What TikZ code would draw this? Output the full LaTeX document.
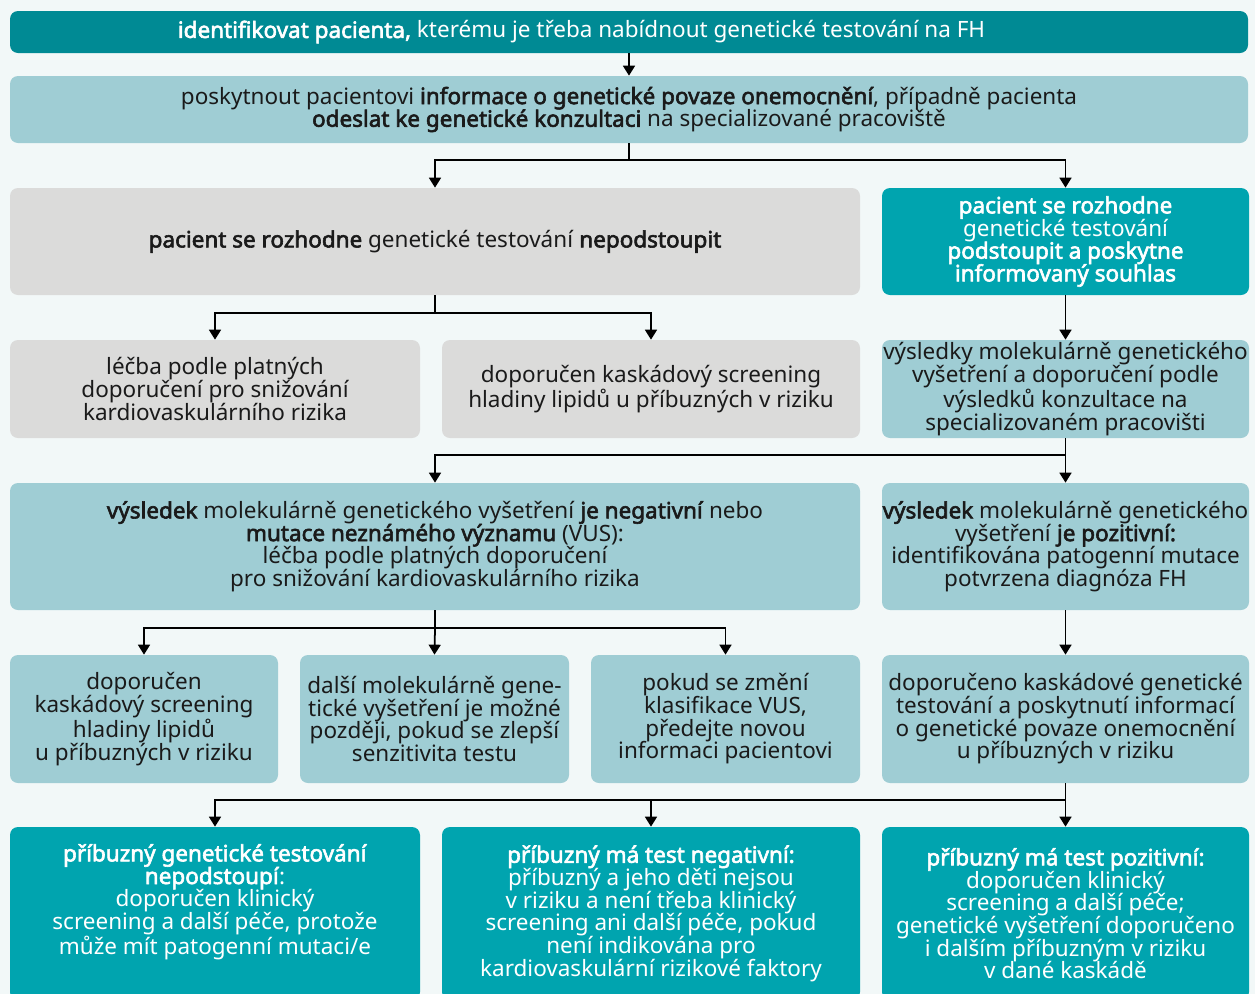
\documentclass[tikz,border=0pt]{standalone}
\usepackage{fontspec}
\setmainfont{Noto Sans}[AutoFakeBold=2.6]
\usepackage{xcolor}
\usepackage{tikz}
\usetikzlibrary{arrows.meta}
\definecolor{bg}{HTML}{F2F8F8}
\definecolor{deep}{HTML}{008A94}
\definecolor{teal}{HTML}{00A4AF}
\definecolor{pale}{HTML}{9FCDD4}
\definecolor{stone}{HTML}{DBDBDA}
\definecolor{ink}{HTML}{1A1A1A}
\tikzset{
  box/.style={rounded corners=0.16cm, inner xsep=0.01cm, inner ysep=0.04cm, align=center,
    font=\fontsize{12.8}{12.9}\selectfont},
  sz/.style 2 args={minimum width={#1*0.02cm}, minimum height={#2*0.02cm}},
  deepbox/.style={box, fill=deep, text=white},
  tealbox/.style={box, fill=teal, text=white},
  palebox/.style={box, fill=pale, text=ink},
  stonebox/.style={box, fill=stone, text=ink},
  ln/.style={draw=black, line width=1pt},
  arr/.style={ln, -{Triangle[width=0.24cm, length=0.2cm]}},
}
\begin{document}
\begin{tikzpicture}[x=0.02cm, y=-0.02cm]
  \fill[bg] (0,0) rectangle (1255,994);
  \useasboundingbox (0,0) rectangle (1255,994);
  \clip (0,0) rectangle (1255,994);
  % start
  \node[deepbox, sz={1238}{42}] (idn) at (629,32)
    {\textbf{identifikovat pacienta,} kterému je třeba nabídnout genetické testování na FH\hspace*{1.9cm}};
  \node[palebox, sz={1238}{67}] (info) at (629,109.5)
    {poskytnout pacientovi \textbf{informace o genetické povaze onemocnění}, případně pacienta\\
     \textbf{odeslat ke genetické konzultaci} na specializované pracoviště};
  % decision
  \node[stonebox, sz={850}{107}] (refuse) at (435,241.5)
    {\textbf{pacient se rozhodne} genetické testování \textbf{nepodstoupit}};
  \node[tealbox, sz={367}{107}] (agree) at (1065.5,241.5)
    {\textbf{pacient se rozhodne}\\ genetické testování\\ \textbf{podstoupit a poskytne}\\ \textbf{informovaný souhlas}};
  \node[stonebox, sz={410}{98}] (treat) at (215,389)
    {léčba podle platných\\ doporučení pro snižování\\ kardiovaskulárního rizika};
  \node[stonebox, sz={418}{98}] (lipid) at (651,389)
    {doporučen kaskádový screening\\ hladiny lipidů u příbuzných v riziku};
  \node[palebox, sz={367}{98}] (result) at (1065.5,389)
    {výsledky molekulárně genetického\\ vyšetření a doporučení podle\\ výsledků konzultace na\\ specializovaném pracovišti};
  % results
  \node[palebox, sz={850}{127}] (neg) at (435,546.5)
    {\textbf{výsledek} molekulárně genetického vyšetření \textbf{je negativní} nebo\\
     \textbf{mutace neznámého významu} (VUS):\\ léčba podle platných doporučení\\
     pro snižování kardiovaskulárního rizika};
  \node[palebox, sz={367}{127}] (pos) at (1065.5,546.5)
    {\textbf{výsledek} molekulárně genetického\\ vyšetření \textbf{je pozitivní:}\\
     identifikována patogenní mutace\\ potvrzena diagnóza FH};
  \node[palebox, sz={268}{128}] (negA) at (144,719)
    {doporučen\\ kaskádový screening\\ hladiny lipidů\\ u příbuzných v riziku};
  \node[palebox, sz={269}{128}] (negB) at (434.5,719)
    {další molekulárně gene-\\ tické vyšetření je možné\\ později, pokud se zlepší\\ senzitivita testu};
  \node[palebox, sz={269}{128}] (negC) at (725.5,719)
    {pokud se změní\\ klasifikace VUS,\\ předejte novou\\ informaci pacientovi};
  \node[palebox, sz={367}{128}] (posA) at (1065.5,719)
    {doporučeno kaskádové genetické\\ testování a poskytnutí informací\\
     o genetické povaze onemocnění\\ u příbuzných v riziku};
  % relatives
  \node[tealbox, sz={410}{173}, text depth=0.56cm] (relA) at (215,913.5)
    {\textbf{příbuzný genetické testování}\\ \textbf{nepodstoupí}:\\ doporučen klinický\\
     screening a další péče, protože\\ může mít patogenní mutaci/e};
  \node[tealbox, sz={418}{173}] (relB) at (651,913.5)
    {\textbf{příbuzný má test negativní:}\\ příbuzný a jeho děti nejsou\\ v riziku a není třeba klinický\\
     screening ani další péče, pokud\\ není indikována pro\\ kardiovaskulární rizikové faktory};
  \node[tealbox, sz={367}{173}] (relC) at (1065.5,913.5)
    {\textbf{příbuzný má test pozitivní:}\\ doporučen klinický\\ screening a další péče;\\
     genetické vyšetření doporučeno\\ i dalším příbuzným v riziku\\ v dané kaskádě};
  % connectors
  \draw[arr] (idn.south) -- (info.north);
  \draw[ln] (info.south) -- ++(0,17) coordinate (j1);
  \draw[arr] (j1) -| (refuse.north);
  \draw[arr] (j1) -| (agree.north);
  \draw[ln] (refuse.south) -- ++(0,18) coordinate (j2);
  \draw[arr] (j2) -| (treat.north);
  \draw[arr] (j2) -| (lipid.north);
  \draw[arr] (agree.south) -- (result.north);
  \draw[ln] (result.south) -- ++(0,17) coordinate (j3);
  \draw[arr] (j3) -| (neg.north);
  \draw[arr] (j3) -- (pos.north);
  \draw[ln] (neg.south) -- ++(0,18) coordinate (j4);
  \draw[arr] (j4) -| (negA.north);
  \draw[arr] (j4) -- (negB.north);
  \draw[arr] (j4) -| (negC.north);
  \draw[arr] (pos.south) -- (posA.north);
  \draw[ln] (posA.south) -- ++(0,17) coordinate (j5);
  \draw[arr] (j5) -| (relA.north);
  \draw[arr] (j5) -| (relB.north);
  \draw[arr] (j5) -- (relC.north);
\end{tikzpicture}
\end{document}
